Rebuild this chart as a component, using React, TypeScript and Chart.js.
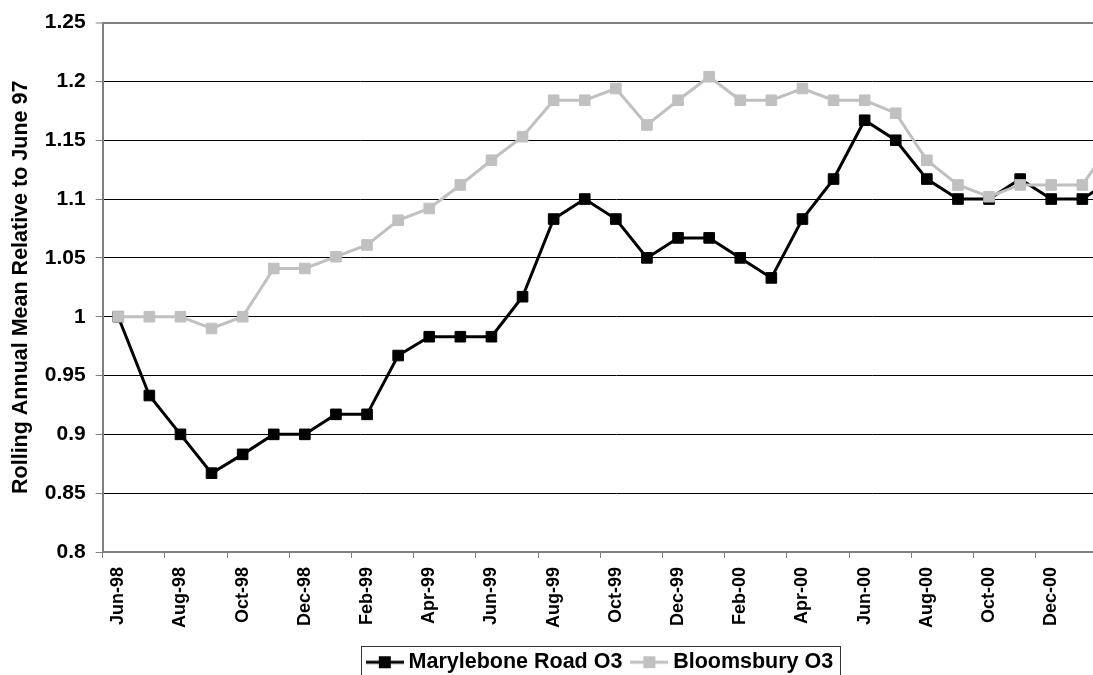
import React, { useEffect, useRef } from 'react';
import { Chart, registerables } from 'chart.js';

Chart.register(...registerables);

const months = [
  'Jun-98', 'Jul-98', 'Aug-98', 'Sep-98', 'Oct-98', 'Nov-98', 'Dec-98',
  'Jan-99', 'Feb-99', 'Mar-99', 'Apr-99', 'May-99', 'Jun-99', 'Jul-99',
  'Aug-99', 'Sep-99', 'Oct-99', 'Nov-99', 'Dec-99', 'Jan-00', 'Feb-00',
  'Mar-00', 'Apr-00', 'May-00', 'Jun-00', 'Jul-00', 'Aug-00', 'Sep-00',
  'Oct-00', 'Nov-00', 'Dec-00', 'Jan-01', 'Feb-01',
];

const marylebone = [
  1.0, 0.933, 0.9, 0.867, 0.883, 0.9, 0.9,
  0.917, 0.917, 0.967, 0.983, 0.983, 0.983, 1.017,
  1.083, 1.1, 1.083, 1.05, 1.067, 1.067, 1.05,
  1.033, 1.083, 1.117, 1.167, 1.15, 1.117, 1.1,
  1.1, 1.117, 1.1, 1.1, 1.117,
];

const bloomsbury = [
  1.0, 1.0, 1.0, 0.99, 1.0, 1.041, 1.041,
  1.051, 1.061, 1.082, 1.092, 1.112, 1.133, 1.153,
  1.184, 1.184, 1.194, 1.163, 1.184, 1.204, 1.184,
  1.184, 1.194, 1.184, 1.184, 1.173, 1.133, 1.112,
  1.102, 1.112, 1.112, 1.112, 1.15,
];

const shownTickLabels = [
  'Jun-98', 'Aug-98', 'Oct-98', 'Dec-98', 'Feb-99', 'Apr-99', 'Jun-99',
  'Aug-99', 'Oct-99', 'Dec-99', 'Feb-00', 'Apr-00', 'Jun-00', 'Aug-00',
  'Oct-00', 'Dec-00', 'Feb-01',
];

const seriesNames = ['Marylebone Road O3', 'Bloomsbury O3'];
const seriesColors = ['#000000', '#C0C0C0'];
const yTitle = 'Rolling Annual Mean Relative to June 97';
const yMin = 0.8;
const yMax = 1.25;
const yStep = 0.05;

const FONT = "'Liberation Sans', Arial, Helvetica, sans-serif";

function makeIcon(color: string): HTMLCanvasElement {
  const c = document.createElement('canvas');
  c.width = 38;
  c.height = 14;
  const g = c.getContext('2d')!;
  g.strokeStyle = color;
  g.lineWidth = 3;
  g.beginPath();
  g.moveTo(0, 7);
  g.lineTo(38, 7);
  g.stroke();
  g.fillStyle = color;
  g.fillRect(13, 1, 12, 12);
  return c;
}

const legendBorder = {
  id: 'legendBorder',
  afterDraw(chart: any) {
    const lg = chart.legend;
    const hb = lg && lg.legendHitBoxes;
    if (!hb || !hb.length) return;
    const first = hb[0];
    const last = hb[hb.length - 1];
    const left = Math.round(first.left - 11) + 0.5;
    const right = Math.round(last.left + last.width + 7) + 0.5;
    const cy = first.top + first.height / 2;
    const top = Math.round(cy - 16) + 0.5;
    const ctx = chart.ctx;
    ctx.save();
    ctx.strokeStyle = '#333333';
    ctx.lineWidth = 1;
    ctx.strokeRect(left, top, right - left, 40);
    ctx.restore();
  },
};

export default function App() {
  const ref = useRef<HTMLCanvasElement | null>(null);

  useEffect(() => {
    if (!ref.current) return;
    const icons = seriesColors.map((c) => makeIcon(c));
    const chart = new Chart(ref.current, {
      type: 'line',
      data: {
        labels: months,
        datasets: [
          {
            label: seriesNames[0],
            data: marylebone,
            borderColor: seriesColors[0],
            backgroundColor: seriesColors[0],
            borderWidth: 3,
            pointStyle: 'rect',
            pointRadius: 7.5,
            pointBorderWidth: 1,
            pointBackgroundColor: seriesColors[0],
            pointBorderColor: seriesColors[0],
            tension: 0,
            order: 1,
            yAxisID: 'y',
          },
          {
            label: seriesNames[1],
            data: bloomsbury,
            borderColor: seriesColors[1],
            backgroundColor: seriesColors[1],
            borderWidth: 3,
            pointStyle: 'rect',
            pointRadius: 7.5,
            pointBorderWidth: 1,
            pointBackgroundColor: seriesColors[1],
            pointBorderColor: seriesColors[1],
            tension: 0,
            order: 0,
            yAxisID: 'y',
          },
        ],
      },
      options: {
        responsive: false,
        animation: false,
        devicePixelRatio: 1,
        layout: { padding: { left: 4, right: 0, top: 19, bottom: 0 } },
        plugins: {
          tooltip: { enabled: false },
          legend: {
            display: true,
            position: 'bottom',
            fullSize: true,
            labels: {
              usePointStyle: true,
              pointStyleWidth: 26,
              padding: 14,
              color: '#000000',
              font: { family: FONT, size: 21.5, weight: 'bold' },
              generateLabels: (ch: any) =>
                ch.data.datasets.map((ds: any, i: number) => ({
                  text: ds.label,
                  pointStyle: icons[i],
                  datasetIndex: i,
                  fillStyle: ds.borderColor,
                  strokeStyle: ds.borderColor,
                  lineWidth: 0,
                  hidden: false,
                  fontColor: '#000000',
                })),
            },
          },
        },
        scales: {
          x: {
            type: 'category',
            offset: true,
            afterFit: (scale: any) => {
              scale.height = 85.5;
              scale.paddingLeft = 0;
              scale.paddingRight = 0;
            },
            border: { display: true, color: '#808080', width: 2 },
            grid: {
              offset: true,
              drawOnChartArea: false,
              drawTicks: true,
              tickLength: 6,
              tickWidth: 1,
              tickColor: (ctx: any) => (ctx.index % 2 === 0 ? '#808080' : 'rgba(0,0,0,0)'),
            },
            ticks: {
              autoSkip: false,
              maxRotation: 90,
              minRotation: 90,
              padding: 9,
              color: '#000000',
              font: { family: FONT, size: 18, weight: 'bold' },
              callback: function (this: any, value: any) {
                const lbl = this.getLabelForValue(value);
                return shownTickLabels.includes(lbl) ? lbl : '';
              },
            },
          },
          y: {
            position: 'left',
            min: yMin,
            max: yMax,
            afterFit: (scale: any) => {
              scale.width = 98.7;
            },
            border: { display: true, color: '#808080', width: 2 },
            grid: {
              color: (ctx: any) =>
                ctx.tick && Math.abs(ctx.tick.value - yMax) < 1e-9 ? '#808080' : '#000000',
              lineWidth: (ctx: any) =>
                ctx.tick && Math.abs(ctx.tick.value - yMax) < 1e-9 ? 2 : 1,
              drawTicks: true,
              tickLength: 7,
              tickColor: '#808080',
              tickWidth: 1,
            },
            ticks: {
              stepSize: yStep,
              padding: 10,
              color: '#000000',
              font: { family: FONT, size: 21, weight: 'bold' },
              callback: (v: any) => String(Number(Number(v).toFixed(2))),
            },
            title: {
              display: true,
              text: yTitle,
              color: '#000000',
              padding: { top: 4, bottom: 0 },
              font: { family: FONT, size: 21.5, weight: 'bold' },
            },
          },
          yRight: {
            type: 'linear',
            position: 'right',
            display: true,
            min: yMin,
            max: yMax,
            afterFit: (scale: any) => {
              scale.width = 72;
            },
            border: { display: false },
            grid: { display: false, drawTicks: false },
            ticks: { display: false },
          },
        },
      },
      plugins: [legendBorder],
    });
    return () => chart.destroy();
  }, []);

  return (
    <div
      style={{
        position: 'fixed',
        left: 0,
        top: 0,
        width: 1093,
        height: 675,
        overflow: 'hidden',
        background: '#ffffff',
      }}
    >
      <canvas ref={ref} width={1201} height={683} style={{ display: 'block' }} />
    </div>
  );
}
